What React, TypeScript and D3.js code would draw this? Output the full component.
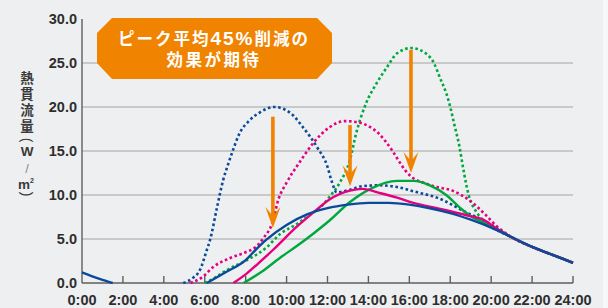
import * as d3 from 'd3'

type Pt = [number, number | null]

// hours on x, W/m2 on y
const blueSolid: Pt[] = [
  [0, 1.2], [0.5, 0.75], [1, 0.35], [1.5, 0], [3, null],
  [6.1, 0], [7, 1.2], [8, 2.6], [8.5, 3.8], [9, 4.9], [10, 6.6], [11, 7.8], [12, 8.5],
  [13, 8.9], [14, 9.1], [15, 9.1], [16, 8.9], [17, 8.5], [18, 7.95], [19, 7.2],
  [20, 6.3], [21, 5.2], [22, 4.1], [23, 3.2], [24, 2.3],
]
const blueDotted: Pt[] = [
  [4.95, 0], [5.4, 0.55], [5.77, 1.5], [6.1, 3.75], [6.26, 4.9], [6.6, 8.6], [6.9, 11.7],
  [7.1, 13.2], [7.35, 14.9], [7.7, 17.0], [8.2, 18.5], [8.7, 19.4], [9.4, 20.0], [10.2, 19.3],
  [10.8, 17.7], [11.5, 15.4], [12.0, 13.2], [12.2, 11.6], [12.45, 10.3], [13.1, 10.6],
  [13.7, 11.0], [14.6, 11.1], [15.4, 10.9], [16.4, 10.3], [17.35, 9.7], [18.8, 8.0],
  [19.8, 6.9], [21, 5.2], [22, 4.1], [23, 3.2], [24, 2.3],
]
const magentaDotted: Pt[] = [
  [5.3, 0], [5.9, 0.7], [6.4, 1.8], [7.2, 2.8], [8.0, 3.5], [8.5, 4.1], [8.9, 5.2], [9.3, 6.8],
  [9.6, 9.5], [10.0, 11.4], [10.66, 13.8], [11.3, 15.9], [12.1, 17.7], [12.85, 18.4],
  [13.6, 18.2], [14.1, 17.7], [14.5, 17.0], [14.8, 16.2], [15.15, 15.1], [15.45, 14.0],
  [15.8, 12.8], [16.2, 11.9], [16.7, 11.4], [17.35, 10.9], [18.1, 10.5], [19.1, 9.1],
  [19.7, 7.8], [20.3, 6.4], [21, 5.2], [22, 4.1], [23, 3.2], [24, 2.3],
]
const greenDotted: Pt[] = [
  [6.0, 0], [6.5, 0.6], [7.1, 1.5], [8.06, 2.6], [9.0, 4.0], [9.7, 5.6], [10.5, 6.7],
  [11.1, 7.7], [11.7, 8.7], [12.1, 9.8], [12.6, 11.4], [13.1, 14.0], [13.4, 17.0],
  [13.9, 20.5], [14.4, 22.7], [14.9, 24.5], [15.4, 26.1], [16.1, 26.7], [16.8, 26.1],
  [17.2, 25.0], [17.5, 23.3], [17.8, 21.6], [18.0, 20.0], [18.2, 18.0], [18.45, 15.5],
  [18.65, 12.8], [18.9, 10.0], [19.3, 8.0], [19.8, 6.8], [20.3, 6.0], [21, 5.2],
  [22, 4.1], [23, 3.2], [24, 2.3],
]
const magentaSolid: Pt[] = [
  [7.4, 0], [8.06, 1.1], [8.7, 2.4], [9.33, 3.75], [10.5, 6.4], [11.3, 8.0], [12.1, 9.5],
  [13.1, 10.5], [13.7, 10.7], [14.6, 10.2], [15.4, 9.7], [16.2, 9.1], [17.35, 8.5],
  [18.8, 7.7], [19.6, 7.2], [20.4, 6.0], [21, 5.2], [22, 4.1], [23, 3.2], [24, 2.3],
]
const greenSolid: Pt[] = [
  [7.9, 0], [8.8, 1.3], [9.7, 2.9], [10.5, 4.2], [11.3, 5.6], [12.1, 7.1], [13.1, 9.2],
  [14.1, 10.7], [15.4, 11.6], [16.2, 11.6], [17.0, 11.1], [17.8, 10.0], [18.5, 8.5],
  [19.0, 7.6], [19.6, 6.9], [20.4, 6.0], [21, 5.2], [22, 4.1], [23, 3.2], [24, 2.3],
]

const arrowHours = [9.33, 13.1, 16.08]
const arrowTops = [18.9, 17.95, 26.5]
const arrowTips = [6.25, 11.0, 12.5]

const yTicks = [0, 5, 10, 15, 20, 25, 30]
const xTicks = [0, 2, 4, 6, 8, 10, 12, 14, 16, 18, 20, 22, 24]

const BLUE = '#0b4a9b'
const MAGENTA = '#e5007f'
const GREEN = '#00a73c'
const ORANGE = '#f08300'

export default function App() {
  const x = d3.scaleLinear().domain([0, 24]).range([82, 573])
  const y = d3.scaleLinear().domain([0, 30]).range([283, 19])

  const line = d3.line<Pt>()
    .defined(d => d[1] !== null)
    .x(d => x(d[0]))
    .y(d => y(d[1] as number))
    .curve(d3.curveMonotoneX)

  const series = [
    { data: greenDotted, color: GREEN, dash: '2.6 2.6' },
    { data: magentaDotted, color: MAGENTA, dash: '2.6 2.6' },
    { data: blueDotted, color: BLUE, dash: '2.6 2.6' },
    { data: greenSolid, color: GREEN, dash: null },
    { data: magentaSolid, color: MAGENTA, dash: null },
    { data: blueSolid, color: BLUE, dash: null },
  ]

  const labelFont = '"Liberation Sans", Arial, sans-serif'
  const jpFont = '"Noto Sans CJK JP", sans-serif'
  const titleColor = '#3a3a3a'

  return (
    <svg width={608} height={308} style={{ position: 'absolute', left: 0, top: 0 }}>
      <rect width={608} height={308} fill="#eeeff1" />
      <rect x={603} width={5} height={308} fill="#f6f7f8" />

      {yTicks.filter(t => t > 0 && t < 30).map(t => (
        <line key={t} x1={x(0)} x2={x(24)} y1={y(t)} y2={y(t)} stroke="#bcbcbc" strokeWidth={1.3} />
      ))}

      <line x1={x(0)} x2={x(0)} y1={y(30)} y2={y(0)} stroke="#5e5e5e" strokeWidth={1.4} />
      <line x1={x(0)} x2={x(24)} y1={y(0)} y2={y(0)} stroke="#5e5e5e" strokeWidth={1.4} />
      {xTicks.filter(t => t > 0).map(t => (
        <line key={t} x1={x(t)} x2={x(t)} y1={y(0)} y2={y(0) - 7} stroke="#5e5e5e" strokeWidth={1.4} />
      ))}

      {yTicks.map(t => (
        <text key={t} x={77} y={y(t) + 5} textAnchor="end" fontFamily={labelFont} fontWeight="bold"
          fontSize={14.5} fill="#2e2e2e">{t.toFixed(1)}</text>
      ))}
      {xTicks.map(t => (
        <text key={t} x={x(t)} y={305} textAnchor="middle" fontFamily={labelFont} fontWeight="bold"
          fontSize={14.5} fill="#2e2e2e">{`${t}:00`}</text>
      ))}

      {/* vertical axis title 熱貫流量（W／㎡） */}
      <g fill={titleColor} fontWeight="bold" textAnchor="middle" dominantBaseline="central">
        <text x={27} y={71} fontFamily={jpFont} fontSize={13.5} textAnchor="start" letterSpacing={2.4}
          style={{ writingMode: 'vertical-rl' }}>熱貫流量</text>
        <text x={27} y={140} fontFamily={labelFont} fontSize={14} fontWeight="normal"
          transform="rotate(90 27 140)">(</text>
        <text x={27} y={151.5} fontFamily={labelFont} fontSize={13.5}>W</text>
        <text x={27} y={168} fontFamily={labelFont} fontSize={13} fontWeight="normal" fill="#8a8a8a">/</text>
        <text x={26} y={184.5} fontFamily={labelFont} fontSize={13.5}>m<tspan fontSize={7} dy={-5}>2</tspan></text>
        <text x={27} y={194} fontFamily={labelFont} fontSize={14} fontWeight="normal"
          transform="rotate(90 27 194)">)</text>
      </g>

      {series.map((s, i) => (
        <path key={i} d={line(s.data) ?? ''} fill="none" stroke={s.color} strokeWidth={s.dash ? 2.6 : 2.4}
          strokeDasharray={s.dash ?? undefined} />
      ))}

      {arrowHours.map((h, i) => {
        const ax = x(h)
        const tip = y(arrowTips[i])
        return (
          <g key={i}>
            <line x1={ax} x2={ax} y1={y(arrowTops[i])} y2={tip - 10} stroke={ORANGE} strokeWidth={3.6} />
            <path d={`M${ax},${tip} L${ax - 7.5},${tip - 21} L${ax},${tip - 12} L${ax + 7.5},${tip - 21} Z`}
              fill={ORANGE} />
          </g>
        )
      })}

      <path d="M112,18 L317,18 L332,33 L332,63 L317,79 L112,79 L97,63 L97,33 Z" fill={ORANGE} />
      <text x={214} y={45} textAnchor="middle" fontFamily={jpFont} fontWeight="bold" fontSize={16.5}
        letterSpacing={2} fill="#fff">
        ピーク平均<tspan fontFamily={labelFont} fontSize={19}>45%</tspan>削減の
      </text>
      <text x={214} y={66} textAnchor="middle" fontFamily={jpFont} fontWeight="bold" fontSize={16.5}
        letterSpacing={2.5} fill="#fff">効果が期待</text>
    </svg>
  )
}
